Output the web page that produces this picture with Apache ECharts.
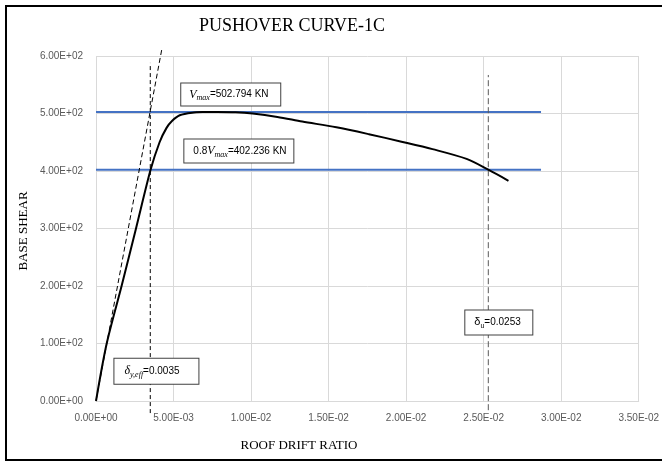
<!DOCTYPE html>
<html>
<head>
<meta charset="utf-8">
<script src="https://cdn.jsdelivr.net/npm/echarts@6/dist/echarts.min.js"></script>
<style>
  html, body { margin: 0; padding: 0; background: #fff; }
  #chart { width: 662px; height: 462px; }
</style>
</head>
<body>
<div id="chart"></div>
<script>
// Pushover curve: roof drift ratio vs base shear
const driftRatio = [0, 0.00069, 0.00165, 0.00258, 0.00352, 0.0041, 0.00455, 0.0049, 0.0054, 0.0062, 0.007, 0.0078, 0.009, 0.0101, 0.0117, 0.0133, 0.0155, 0.0176, 0.0197, 0.0217, 0.0239, 0.0253, 0.0266];
const baseShear  = [0, 100, 200, 300, 402, 450, 475, 487, 497, 501.5, 502.6, 502.794, 502.3, 500, 494, 486, 476, 464, 451, 438, 421, 402.236, 383];

// Effective stiffness secant line
const secantDrift = [0, 0.00426];
const secantShear = [0, 614];

// Reference levels
const vMax = 502.794;
const vMax08 = 402.236;
const levelDrift = [0, 0.0287];

// Characteristic drifts and the vertical extent of their guide lines
const deltaYeff = 0.0035;
const deltaU = 0.0253;
const deltaYeffSpan = [-21, 588];
const deltaUSpan = [-16, 567];

// Axis ticks
const xTicks = { min: 0, max: 0.035, step: 0.005 };
const yTicks = { min: 0, max: 600, step: 100 };

function sci(v) {
  if (Math.abs(v) < 1e-12) return '0.00E+00';
  const parts = v.toExponential(2).split('e');
  const sign = parts[1][0];
  const digits = parts[1].slice(1).padStart(2, '0');
  return parts[0] + 'E' + sign + digits;
}

const pairs = (xs, ys) => xs.map((x, i) => [x, ys[i]]);

const serif = 'Liberation Serif, Times New Roman, serif';
const sans = 'Liberation Sans, Arial, sans-serif';

const rich = {
  v:  { fontFamily: serif, fontStyle: 'italic', fontSize: 12, color: '#000' },
  s:  { fontFamily: serif, fontStyle: 'italic', fontSize: 8, color: '#000', padding: [7, 0, 0, 0] },
  d:  { fontFamily: serif, fontStyle: 'italic', fontSize: 12, color: '#000' },
  du: { fontFamily: sans, fontSize: 11, color: '#000' },
  su: { fontFamily: sans, fontSize: 7, color: '#000', padding: [7, 0, 0, 0] },
  t:  { fontFamily: sans, fontSize: 10, color: '#000' }
};

function note(coord, text, w, h, padL) {
  return {
    coord: coord,
    symbol: 'rect',
    symbolSize: 1,
    itemStyle: { color: 'rgba(0,0,0,0)' },
    label: {
      show: true,
      position: [0, 0],
      align: 'left',
      verticalAlign: 'top',
      formatter: text,
      backgroundColor: '#fff',
      borderColor: '#404040',
      borderWidth: 1,
      padding: [0, 0, 0, padL],
      width: w - padL,
      height: h,
      lineHeight: h,
      rich: Object.fromEntries(Object.entries(rich).map(([k, s]) => [k, Object.assign({ lineHeight: h }, s)]))
    }
  };
}

const chart = echarts.init(document.getElementById('chart'), null, { renderer: 'canvas' });

chart.setOption({
  animation: false,
  backgroundColor: '#fff',
  grid: { left: 96, right: 22, top: 56, bottom: 61, containLabel: false },
  xAxis: {
    type: 'value',
    min: xTicks.min, max: xTicks.max, interval: xTicks.step,
    axisLine: { show: true, lineStyle: { color: '#d9d9d9', width: 1 } },
    axisTick: { show: false },
    splitLine: { show: true, lineStyle: { color: '#d9d9d9', width: 1 } },
    axisLabel: { color: '#595959', fontFamily: sans, fontSize: 10, margin: 12, formatter: sci }
  },
  yAxis: {
    type: 'value',
    min: yTicks.min, max: yTicks.max, interval: yTicks.step,
    axisLine: { show: false },
    axisTick: { show: false },
    splitLine: { show: true, lineStyle: { color: '#d9d9d9', width: 1 } },
    axisLabel: { color: '#595959', fontFamily: sans, fontSize: 10, margin: 13, formatter: sci }
  },
  series: [
    {
      name: 'Vmax',
      type: 'line',
      data: pairs(levelDrift, [vMax, vMax]),
      showSymbol: false,
      lineStyle: { color: '#4472C4', width: 2 },
      z: 2
    },
    {
      name: '0.8Vmax',
      type: 'line',
      data: pairs(levelDrift, [vMax08, vMax08]),
      showSymbol: false,
      lineStyle: { color: '#4472C4', width: 2 },
      z: 2
    },
    {
      name: 'secant',
      type: 'line',
      data: pairs(secantDrift, secantShear),
      showSymbol: false,
      clip: false,
      lineStyle: { color: '#000', width: 1, type: [5, 3] },
      z: 3
    },
    {
      name: 'delta_y_eff',
      type: 'line',
      data: pairs([deltaYeff, deltaYeff], deltaYeffSpan),
      showSymbol: false,
      clip: false,
      lineStyle: { color: '#000', width: 1, type: [4, 3] },
      z: 3
    },
    {
      name: 'delta_u',
      type: 'line',
      data: pairs([deltaU, deltaU], deltaUSpan),
      showSymbol: false,
      clip: false,
      lineStyle: { color: '#595959', width: 1, type: [6, 3] },
      z: 3
    },
    {
      name: 'Pushover',
      type: 'line',
      data: pairs(driftRatio, baseShear),
      showSymbol: false,
      smooth: 0.3,
      lineStyle: { color: '#000', width: 2 },
      z: 4,
      markPoint: {
        z: 10,
        silent: true,
        data: [
          note([0.00553, 551.3], '{v|V}{s|max}{t|=502.794 KN}', 99, 22, 8),
          note([0.00573, 453.8], '{t|0.8}{v|V}{s|max}{t|=402.236 KN}', 109, 23, 9),
          note([0.00122, 72.6], '{d|δ}{s|y,eff}{t|=0.0035}', 84, 25, 10),
          note([0.02385, 156.7], '{du|δ}{su|u}{t|=0.0253}', 67, 24, 9)
        ]
      }
    }
  ],
  graphic: [
    {
      type: 'rect',
      shape: { x: 6, y: 6, width: 662, height: 454 },
      style: { fill: 'none', stroke: '#000', lineWidth: 2 },
      silent: true
    },
    {
      type: 'text',
      x: 292, y: 26,
      style: { text: 'PUSHOVER CURVE-1C', font: '18px ' + serif, fill: '#000', textAlign: 'center', textVerticalAlign: 'middle' }
    },
    {
      type: 'text',
      x: 299, y: 446,
      style: { text: 'ROOF DRIFT RATIO', font: '13px ' + serif, fill: '#000', textAlign: 'center', textVerticalAlign: 'middle' }
    },
    {
      type: 'text',
      x: 24, y: 231,
      rotation: Math.PI / 2,
      style: { text: 'BASE SHEAR', font: '13px ' + serif, fill: '#000', textAlign: 'center', textVerticalAlign: 'middle' }
    }
  ]
});
</script>
</body>
</html>
